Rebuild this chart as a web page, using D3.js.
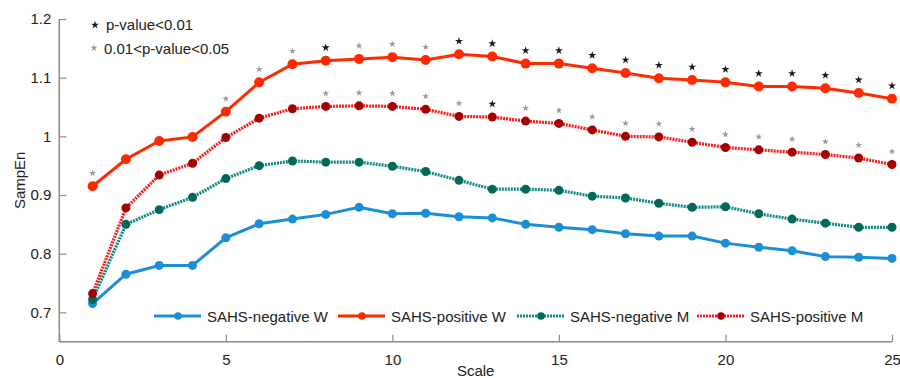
<!DOCTYPE html>
<html>
<head>
<meta charset="utf-8">
<script src="https://cdn.jsdelivr.net/npm/d3@7"></script>
<style>
  body { margin: 0; background: #fff; }
  svg { display: block; font-family: "Liberation Sans", Arial, sans-serif; }
</style>
</head>
<body>
<div id="chart"></div>
<script>
// Scale 1..25
const scales = d3.range(1, 26);

const negW = [0.715, 0.765, 0.780, 0.780, 0.827, 0.851, 0.859, 0.867, 0.879, 0.868, 0.869, 0.863, 0.861, 0.850, 0.845, 0.841,
  0.834, 0.830, 0.830, 0.818, 0.811, 0.805, 0.795, 0.794, 0.792];
const posW = [0.915, 0.961, 0.992, 0.999, 1.042, 1.092, 1.123, 1.129, 1.132, 1.135, 1.130, 1.140, 1.136, 1.124, 1.124, 1.116,
  1.108, 1.099, 1.096, 1.092, 1.085, 1.085, 1.082, 1.074, 1.064];
const negM = [0.722, 0.850, 0.875, 0.896, 0.928, 0.950, 0.958, 0.956, 0.956, 0.949, 0.940, 0.925, 0.910, 0.910, 0.908, 0.898,
  0.895, 0.886, 0.879, 0.880, 0.868, 0.859, 0.852, 0.845, 0.845];
const posM = [0.732, 0.878, 0.934, 0.954, 0.998, 1.031, 1.047, 1.051, 1.052, 1.051, 1.046, 1.034, 1.033, 1.026, 1.022, 1.011,
  1.000, 0.999, 0.990, 0.981, 0.977, 0.973, 0.969, 0.963, 0.952];

// significance marks: "**" = p<0.01, "*" = 0.01<p<0.05, "" = none
const sigW = ["*", "", "", "", "*", "*", "*", "**", "*", "*", "*", "**", "**", "**", "**", "**",
  "**", "**", "**", "**", "**", "**", "**", "**", "**"];
const sigM = ["", "", "", "", "", "", "", "*", "*", "*", "*", "*", "**", "*", "*", "*",
  "*", "*", "*", "*", "*", "*", "*", "*", "*"];

const xTicks = [0, 5, 10, 15, 20, 25];
const yTicks = [0.7, 0.8, 0.9, 1.0, 1.1, 1.2];

const series = [
  {name: "SAHS-negative W", values: negW, line: "#1a8fd6", dot: "#1a8fd6", dash: null, r: 4.5},
  {name: "SAHS-positive W", values: posW, line: "#ff2a00", dot: "#ff2a00", dash: null, r: 5},
  {name: "SAHS-negative M", values: negM, line: "#0f8a80", dot: "#00695c", dash: "2,1", r: 4.5},
  {name: "SAHS-positive M", values: posM, line: "#ff1a1a", dot: "#a50000", dash: "2,1", r: 4.5},
];

const width = 900, height = 378;
const x = d3.scaleLinear([0, 25], [59.3, 892]);
const y = d3.scaleLinear([0.65, 1.2], [341.7, 19]);

const svg = d3.select("#chart").append("svg").attr("width", width).attr("height", height);

// Axes
const axisColor = "#8a8a8a";
const gx = svg.append("g").attr("transform", `translate(0,${y(0.65)})`)
  .call(d3.axisBottom(x).tickValues(xTicks).tickSize(-7).tickPadding(13).tickFormat(d3.format("d")));
const gy = svg.append("g").attr("transform", `translate(${x(0)},0)`)
  .call(d3.axisLeft(y).tickValues(yTicks).tickSize(-7).tickPadding(8).tickFormat(d => d === 1 ? "1" : d3.format(".1f")(d)));
[gx, gy].forEach(g => {
  g.select(".domain").attr("stroke", axisColor).attr("stroke-width", 1.5);
  g.selectAll(".tick line").attr("stroke", axisColor).attr("stroke-width", 1.2);
  g.selectAll(".tick text").attr("fill", "#222").attr("font-size", 15);
});
gx.select(".domain").attr("d", `M${x(0)},0H${x(25)}`);
gy.select(".domain").attr("d", `M0,${y(1.2)}V${y(0.65)}`);

svg.append("text").attr("x", (x(0) + x(25)) / 2).attr("y", 376).attr("text-anchor", "middle")
  .attr("font-size", 15).attr("fill", "#222").text("Scale");
svg.append("text").attr("transform", `translate(25,${(y(1.2) + y(0.65)) / 2}) rotate(-90)`)
  .attr("text-anchor", "middle").attr("font-size", 15).attr("fill", "#222").text("SampEn");

// Lines and dots
const line = d3.line().x((d, i) => x(scales[i])).y(d => y(d));
series.forEach(s => {
  svg.append("path").attr("d", line(s.values)).attr("fill", "none")
    .attr("stroke", s.line).attr("stroke-width", s.dash ? 3.2 : 3)
    .attr("stroke-dasharray", s.dash);
  svg.append("g").selectAll("circle").data(s.values).join("circle")
    .attr("cx", (d, i) => x(scales[i])).attr("cy", d => y(d)).attr("r", s.r)
    .attr("fill", s.dot);
});

// Significance stars
const starBig = d3.symbol().type(d3.symbolStar).size(20)();
const starSmall = d3.symbol().type(d3.symbolStar).size(15)();
function drawStars(sig, vals) {
  svg.append("g").selectAll("path").data(sig.map((s, i) => ({s, i})).filter(d => d.s))
    .join("path")
    .attr("d", d => d.s === "**" ? starBig : starSmall)
    .attr("fill", d => d.s === "**" ? "#1a1a1a" : "#9a9a9a")
    .attr("transform", d => `translate(${x(scales[d.i])},${y(vals[d.i]) - 13})`);
}
drawStars(sigW, posW);
drawStars(sigM, posM);

// Top-left star legend
svg.append("path").attr("d", starBig).attr("fill", "#1a1a1a").attr("transform", "translate(95,25)");
svg.append("text").attr("x", 106).attr("y", 30).attr("font-size", 15).attr("fill", "#222").text("p-value<0.01");
svg.append("path").attr("d", starSmall).attr("fill", "#9a9a9a").attr("transform", "translate(94,48)");
svg.append("text").attr("x", 104).attr("y", 54).attr("font-size", 15).attr("fill", "#222").text("0.01<p-value<0.05");

// Bottom legend
const legendX = [154, 338, 517, 697];
const ly = 316;
series.forEach((s, i) => {
  const g = svg.append("g").attr("transform", `translate(${legendX[i]},${ly})`);
  g.append("line").attr("x1", 0).attr("x2", 47).attr("stroke", s.line)
    .attr("stroke-width", 3).attr("stroke-dasharray", s.dash);
  g.append("circle").attr("cx", 24).attr("r", 3.8).attr("fill", s.dot);
  g.append("text").attr("x", 53).attr("y", 5.5).attr("font-size", 15).attr("fill", "#222").text(s.name);
});
</script>
</body>
</html>
